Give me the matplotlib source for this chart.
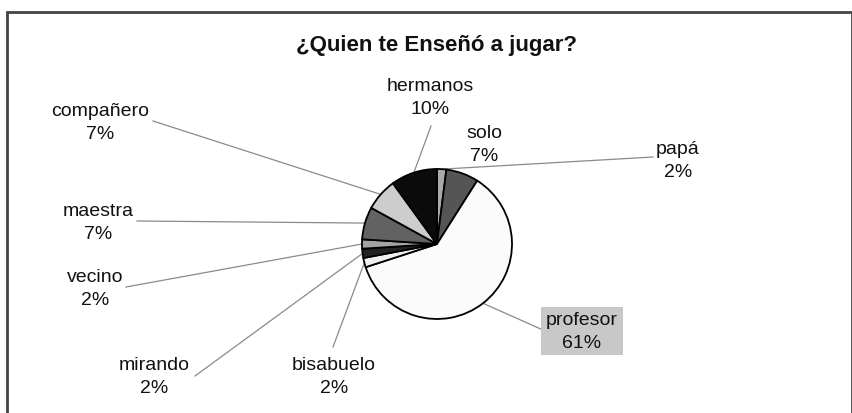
import matplotlib
matplotlib.use("Agg")
import matplotlib.pyplot as plt
import numpy as np
from matplotlib.patches import Rectangle

plt.rcParams['font.family'] = ['Liberation Sans', 'DejaVu Sans']

# ---- data ----
categories = ["papá", "solo", "profesor", "bisabuelo", "mirando",
              "vecino", "maestra", "compañero", "hermanos"]
values = [2, 7, 61, 2, 2, 2, 7, 7, 10]
colors = ["#a9a9a9", "#555555", "#fbfbfb", "#f0f0f0", "#222222",
          "#a3a3a3", "#626262", "#cdcdcd", "#0b0b0b"]
title = "¿Quien te Enseñó a jugar?"

# label block centres (pixel coords, y from top) and leader-line end points
label_pos = {
    "papá": (678, 161), "solo": (484, 145), "profesor": (582, 332),
    "bisabuelo": (334, 377), "mirando": (154, 377), "vecino": (95, 289),
    "maestra": (98, 223), "compañero": (100, 123), "hermanos": (430, 98),
}
leader_end = {
    "papá": (653, 158), "profesor": (543, 331), "bisabuelo": (333, 348),
    "mirando": (195, 377), "vecino": (126, 288), "maestra": (137, 222),
    "compañero": (153, 122), "hermanos": (431, 127),
}

W, H = 853, 414
fig = plt.figure(figsize=(W / 100, H / 100), dpi=100)
ax = fig.add_axes([0, 0, 1, 1])

def Y(p):
    return H - p

cx, cy, r = 437, Y(245), 75
wedges, _ = ax.pie(values, colors=colors, startangle=90, counterclock=False,
                   center=(cx, cy), radius=r, frame=True,
                   wedgeprops=dict(edgecolor="black", linewidth=1.3))
ax.set_xlim(0, W)
ax.set_ylim(0, H)
ax.axis("off")

total = sum(values)
for w, name, v in zip(wedges, categories, values):
    lx, ly = label_pos[name]
    txt = f"{name}\n{round(100 * v / total)}%"
    kw = dict(ha="center", va="center", fontsize=14, color="#111111",
              linespacing=1.4)
    if name == "profesor":
        kw["bbox"] = dict(boxstyle="square,pad=0.25", fc="#c8c8c8", ec="none")
    ax.text(lx, Y(ly), txt, **kw)
    if name in leader_end:
        ang = np.deg2rad((w.theta1 + w.theta2) / 2)
        px, py = cx + r * np.cos(ang), cy + r * np.sin(ang)
        ex, ey = leader_end[name]
        ax.plot([ex, px], [Y(ey), py], color="#8a8a8a", lw=0.9, zorder=0)

ax.text(437, Y(45), title, ha="center", va="center", fontsize=16,
        fontweight="bold", color="#111111")

ax.add_patch(Rectangle((7, Y(420)), 845, 407, fill=False, ec="#444444",
                       lw=2, clip_on=False))

fig.savefig("out.png", dpi=100)
